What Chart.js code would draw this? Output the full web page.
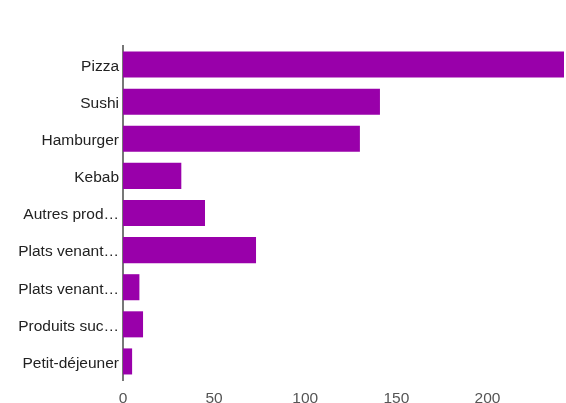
<!DOCTYPE html>
<html>
<head>
<meta charset="utf-8">
<script src="https://cdn.jsdelivr.net/npm/chart.js@4.4.0/dist/chart.umd.min.js"></script>
<style>
  html, body { margin: 0; padding: 0; background: #fff; }
  #container { width: 566px; height: 403px; position: relative; }
</style>
</head>
<body>
<div id="container"><canvas id="chart"></canvas></div>
<script>
const labels = ['Pizza', 'Sushi', 'Hamburger', 'Kebab', 'Autres prod\u2026', 'Plats venant\u2026', 'Plats venant\u2026', 'Produits suc\u2026', 'Petit-d\u00e9jeuner']
const votes = [242, 141, 130, 32, 45, 73, 9, 11, 5]
const xTicks = [0, 50, 100, 150, 200]

const ctx = document.querySelector('#chart').getContext('2d')

new Chart(ctx, {
    type: 'bar',
    data: {
        labels: labels,
        datasets: [{
            data: votes,
            backgroundColor: '#9900aa',
            borderWidth: 0,
            barPercentage: 0.78,
            categoryPercentage: 0.9
        }]
    },
    options: {
        indexAxis: 'y',
        responsive: true,
        maintainAspectRatio: false,
        animation: false,
        layout: { padding: { top: 46, right: 2, bottom: 0, left: 0 } },
        plugins: {
            legend: { display: false },
            tooltip: { enabled: false }
        },
        scales: {
            x: {
                min: 0,
                max: Math.max(...votes),
                afterBuildTicks: axis => {
                    axis.ticks = xTicks.map(v => ({ value: v }))
                },
                afterFit: axis => { axis.height = 23 },
                grid: { display: false, drawTicks: false },
                border: { display: false },
                ticks: {
                    color: '#555',
                    padding: 9,
                    font: { family: 'Liberation Sans, Arial', size: 15.5 }
                }
            },
            y: {
                afterFit: axis => { axis.width = 123 },
                grid: { display: false, drawTicks: false },
                border: { display: true, color: '#777', width: 2 },
                ticks: {
                    color: '#222',
                    padding: 4,
                    labelOffset: 2,
                    font: { family: 'Liberation Sans, Arial', size: 15.5 }
                }
            }
        }
    }
})
</script>
</body>
</html>
